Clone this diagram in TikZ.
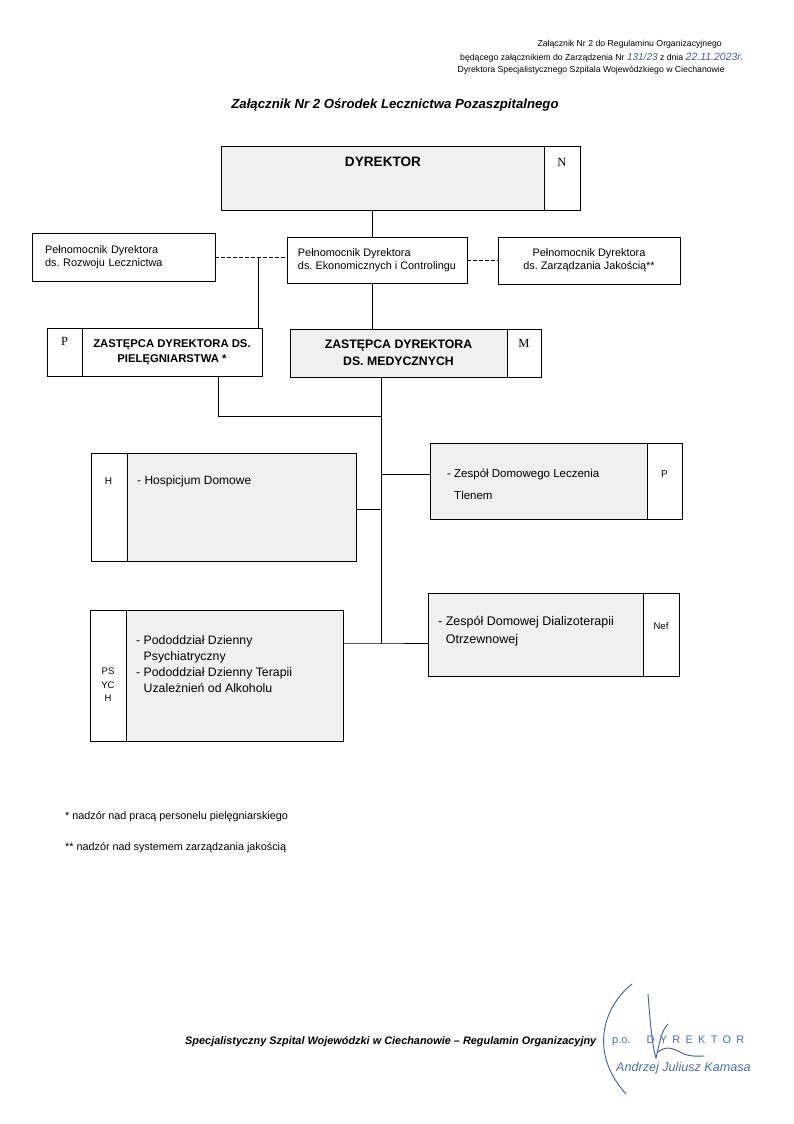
\documentclass[tikz,border=0pt]{standalone}
\usepackage{fontspec}
\setmainfont{Liberation Sans}
\newfontfamily\serifrm{Liberation Serif}
\usetikzlibrary{positioning}
\definecolor{boxgray}{HTML}{F0F0F0}
\definecolor{inkblue}{HTML}{3D5EA6}
\definecolor{stampblue}{HTML}{4E6EAE}
\frenchspacing

\begin{document}
\begin{tikzpicture}[x=1pt, y=-1pt,
  font=\fontsize{10.9}{13}\selectfont, every node/.style={inner sep=0pt},
  box/.style={draw, line width=0.9pt, fill=boxgray, anchor=north west, outer sep=0pt},
  wbox/.style={box, fill=white},
  lnk/.style={draw, line width=0.9pt},
  dlnk/.style={lnk, dash pattern=on 3.5pt off 2.5pt},
  hdr/.style={font=\fontsize{8.7}{10}\selectfont},
  chief/.style={font=\fontsize{11.3}{15}\selectfont\bfseries, align=center},
  tagtxt/.style={font=\fontsize{10}{14.5}\selectfont, align=center},
  unit/.style={font=\fontsize{12}{16}\selectfont, align=left, anchor=west},
  note/.style={font=\fontsize{10.8}{12}\selectfont, anchor=base west},
  sig/.style={draw=inkblue, line width=0.9pt, line cap=round},
]
\useasboundingbox[fill=white] (0,0) rectangle (794,1124);

% naglowek
\node[hdr, anchor=base east] (h1) at (722,47) {Załącznik Nr 2 do Regulaminu Organizacyjnego};
\node[hdr, anchor=base west] (h2) at (460,60) {będącego załącznikiem do Zarządzenia Nr \textcolor{inkblue}{\fontsize{10}{10}\selectfont\itshape 131/23} z dnia \textcolor{inkblue}{\fontsize{10.5}{10}\selectfont\itshape 22.11.2023r.}};
\node[hdr, anchor=base east] (h3) at (725,73) {Dyrektora Specjalistycznego Szpitala Wojewódzkiego w Ciechanowie};
\node[font=\fontsize{13.2}{15}\selectfont\bfseries\itshape, anchor=base] (title) at (395,108) {Załącznik Nr 2 Ośrodek Lecznictwa Pozaszpitalnego};

% dyrektor
\node[box, minimum width=323, minimum height=64] (dyr) at (221,146) {};
\node[wbox, minimum width=36, minimum height=64] (dyrn) at (dyr.north east) {};
\node[font=\fontsize{13.6}{15}\selectfont\bfseries] (dyrt) at (383,162) {DYREKTOR};
\node[font=\fontsize{12.5}{14}\selectfont\serifrm] (dyrnt) at (562,162) {N};

% pelnomocnicy
\node[wbox, minimum width=183, minimum height=48, text width=157, align=left] (rozw) at (32,233)
  {Pełnomocnik Dyrektora\\ds. Rozwoju Lecznictwa};
\node[wbox, minimum width=180, minimum height=46, align=left] (eko) at (287,237)
  {Pełnomocnik Dyrektora\\ds. Ekonomicznych i Controlingu};
\node[wbox, minimum width=182, minimum height=47, align=center] (jak) at (498,237)
  {Pełnomocnik Dyrektora\\ds. Zarządzania Jakością**};
\draw[lnk] ([xshift=-5pt]dyr.south -| eko.north) -- ([xshift=-5pt]eko.north);
\draw[dlnk] (rozw.east) -- (rozw.east -| eko.west);
\draw[dlnk] (eko.east) -- (eko.east -| jak.west);
\coordinate (j1) at (258,257);

% zastepcy
\node[wbox, minimum width=35, minimum height=48] (zpielp) at (47,328) {};
\node[wbox, minimum width=180, minimum height=48, chief] (zpiel) at (zpielp.north east)
  {ZASTĘPCA DYREKTORA DS.\\PIELĘGNIARSTWA *};
\node[font=\fontsize{12.5}{14}\selectfont\serifrm] (zpielpt) at (64.5,341) {P};
\node[box, minimum width=217, minimum height=48, chief, font=\fontsize{12.3}{17.5}\selectfont\bfseries] (zmed) at (290,329)
  {ZASTĘPCA DYREKTORA\\DS. MEDYCZNYCH};
\node[wbox, minimum width=34, minimum height=48] (zmedm) at (zmed.north east) {};
\node[font=\fontsize{12.5}{14}\selectfont\serifrm] (zmedmt) at (524,343) {M};
\draw[lnk] (j1) -- (j1 |- zpielp.north);
\draw[lnk] ([xshift=-5pt]eko.south) -- ([xshift=-5pt]eko.south |- zmed.north);

% komorki
\node[wbox, minimum width=36, minimum height=108] (hosph) at (91,453) {};
\node[box, minimum width=229, minimum height=108] (hosp) at (hosph.north east) {};
\node[tagtxt] (hospht) at (108.5,481) {H};
\node[unit] (hospt) at (137,481) {- Hospicjum Domowe};

\node[box, minimum width=217, minimum height=76] (tlen) at (430,443) {};
\node[wbox, minimum width=35, minimum height=76] (tlenp) at (tlen.north east) {};
\node[tagtxt] (tlenpt) at (664.5,474) {P};
\node[unit, font=\fontsize{11.5}{22}\selectfont] (tlent) at (447,484)
  {- Zespół Domowego Leczenia\\\phantom{- }Tlenem};

\node[wbox, minimum width=36, minimum height=131] (psyh) at (90,610) {};
\node[box, minimum width=217, minimum height=131] (psy) at (psyh.north east) {};
\node[tagtxt, font=\fontsize{9.5}{13.5}\selectfont] (psyht) at (108,685) {PS\\YC\\H};
\node[unit, font=\fontsize{12.3}{16.2}\selectfont] (psyt) at (136,664)
  {- Pododdział Dzienny\\\phantom{- }Psychiatryczny\\- Pododdział Dzienny Terapii\\\phantom{- }Uzależnień od Alkoholu};

\node[box, minimum width=215, minimum height=83] (dial) at (428,593) {};
\node[wbox, minimum width=36, minimum height=83] (dialn) at (dial.north east) {};
\node[tagtxt, font=\fontsize{9.5}{12}\selectfont] (dialnt) at (661,626) {Nef};
\node[unit, font=\fontsize{12.5}{18}\selectfont] (dialt) at (438,631)
  {- Zespół Domowej Dializoterapii\\\phantom{- }Otrzewnowej};

% polaczenia pionu medycznego
\coordinate (t0) at (381,377);
\coordinate (t1) at (381,643);
\coordinate (b1) at (218,416);
\draw[lnk] (t0) -- (t1);
\draw[lnk] (b1 |- zpiel.south) -- (b1) -- (b1 -| t0);
\draw[lnk] ([yshift=7pt]tlen.west) -- ([yshift=7pt]tlen.west -| t0);
\draw[lnk] ([yshift=-2pt]hosp.east) -- ([yshift=-2pt]hosp.east -| t0);
\draw[lnk] (t1 -| psy.east) -- (t1) -- (t1 -| dial.west);

% przypisy
\node[note] (n1) at (65,819) {* nadzór nad pracą personelu pielęgniarskiego};
\node[note] (n2) at (65,850) {** nadzór nad systemem zarządzania jakością};

% stopka
\node[font=\fontsize{10.9}{12}\selectfont\bfseries\itshape, anchor=base west] (foot) at (185,1044)
  {Specjalistyczny Szpital Wojewódzki w Ciechanowie – Regulamin Organizacyjny};
\node[font=\fontsize{11}{12}\selectfont, text=stampblue, anchor=base west] (po) at (612,1043)
  {p.o.\hspace{16pt}{\addfontfeature{LetterSpace=48}DYREKTOR}};
\node[font=\fontsize{12.6}{12}\selectfont\itshape, text=stampblue, anchor=base west] (kam) at (616,1071)
  {Andrzej Juliusz Kamasa};
\draw[sig] (632,984) .. controls (604,1006) and (588,1052) .. (626,1094);
\draw[sig] (648,994) .. controls (650,1020) and (652,1045) .. (656,1058) .. controls (660,1040) and (662,1030) .. (668,1024);
\draw[sig] (658,1052) .. controls (668,1044) and (675,1050) .. (684,1054) .. controls (692,1057) and (698,1056) .. (704,1056);
\end{tikzpicture}
\end{document}
